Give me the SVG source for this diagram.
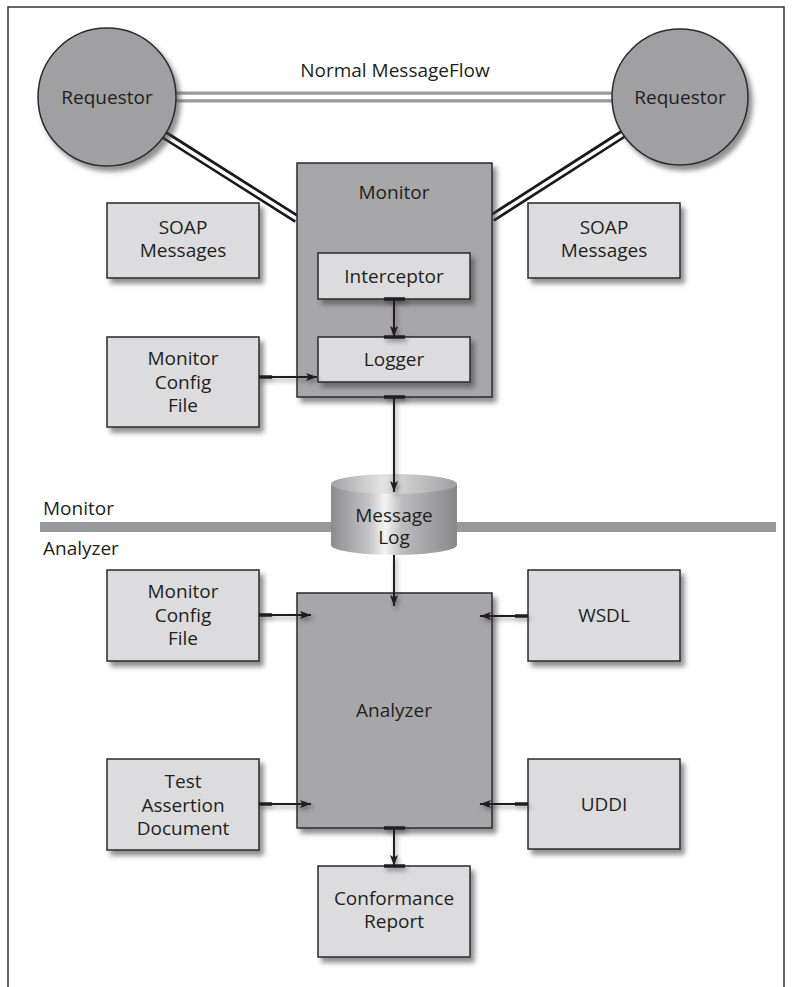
<svg xmlns="http://www.w3.org/2000/svg" width="793" height="987" viewBox="0 0 793 987">
<defs>
<style>
text{font-family:"Open Sans","Noto Sans","Liberation Sans",sans-serif;font-size:19px;fill:#231f20;text-anchor:middle}
.lbl{text-anchor:start}
.lt{fill:#dcdcde;stroke:#2a2a2a;stroke-width:1.5}
.dk{fill:#a7a7a9;stroke:#2a2a2a;stroke-width:1.5}
.circ{fill:#a0a0a2;stroke:#2a2a2a;stroke-width:1.5}
.arr{stroke:#231f20;stroke-width:2;fill:none;marker-end:url(#ah)}
.tick{stroke:#231f20;stroke-width:3.5;fill:none}
.dblk{stroke:#1a1a1a;stroke-width:9;fill:none}
.dwht{stroke:#fff;stroke-width:3.5;fill:none}
.dgry{stroke:#9a9a9c;stroke-width:11;fill:none}
.gwht{stroke:#fff;stroke-width:4.5;fill:none}
</style>
<filter id="sh" x="-20%" y="-20%" width="150%" height="150%">
<feDropShadow dx="4" dy="5" stdDeviation="2.5" flood-color="#444" flood-opacity="0.6"/>
</filter>
<filter id="ash" x="-50%" y="-50%" width="200%" height="200%">
<feDropShadow dx="2" dy="3" stdDeviation="2" flood-color="#333" flood-opacity="0.5"/>
</filter>
<marker id="ah" markerUnits="userSpaceOnUse" markerWidth="12" markerHeight="8" refX="11" refY="4" orient="auto">
<path d="M0,0 L11,4 L0,8 L2.5,4 Z" fill="#231f20"/>
</marker>
<linearGradient id="cyl" x1="0" y1="0" x2="1" y2="0">
<stop offset="0" stop-color="#8c8c8e"/>
<stop offset="0.3" stop-color="#c4c4c6"/>
<stop offset="0.43" stop-color="#f4f4f4"/>
<stop offset="0.56" stop-color="#bdbdbf"/>
<stop offset="1" stop-color="#88888a"/>
</linearGradient>
<linearGradient id="cyltop" x1="0" y1="0" x2="1" y2="0">
<stop offset="0" stop-color="#a2a2a4"/>
<stop offset="0.4" stop-color="#e2e2e2"/>
<stop offset="1" stop-color="#a0a0a2"/>
</linearGradient>
</defs>
<rect width="793" height="987" fill="#fff"/>
<path d="M8,987 L8,7 L784,7 L784,987" fill="none" stroke="#333" stroke-width="1.5"/>

<g id="divider">
<rect x="40" y="522" width="736" height="10" fill="#97989a"/>
<text class="lbl" x="43" y="515">Monitor</text>
<text class="lbl" x="43" y="555">Analyzer</text>
</g>

<g id="flows">
<path class="dgry" d="M170,97 L618,97"/>
<path class="gwht" d="M170,97 L618,97"/>
<path class="dblk" d="M163,134 L297,219"/>
<path class="dwht" d="M161,133 L297,219"/>
<path class="dblk" d="M626,132 L492,218"/>
<path class="dwht" d="M628,131 L492,218"/>
<text x="395" y="77">Normal MessageFlow</text>
</g>

<g id="requestor-left">
<circle class="circ" cx="107" cy="97" r="69" filter="url(#sh)"/>
<text x="107" y="104">Requestor</text>
</g>
<g id="requestor-right">
<circle class="circ" cx="680" cy="97" r="68" filter="url(#sh)"/>
<text x="680" y="104">Requestor</text>
</g>

<g id="soap-left">
<rect class="lt" x="107" y="203" width="152" height="75" filter="url(#sh)"/>
<text x="183" y="234">SOAP</text>
<text x="183" y="257">Messages</text>
</g>
<g id="soap-right">
<rect class="lt" x="528" y="203" width="152" height="75" filter="url(#sh)"/>
<text x="604" y="234">SOAP</text>
<text x="604" y="257">Messages</text>
</g>

<g id="monitor">
<rect class="dk" x="297" y="163" width="195" height="234" filter="url(#sh)"/>
<text x="394" y="199">Monitor</text>
</g>
<g id="interceptor">
<rect class="lt" x="318" y="253" width="152" height="46" filter="url(#sh)"/>
<text x="394" y="283">Interceptor</text>
</g>
<g id="logger">
<rect class="lt" x="318" y="337" width="152" height="45" filter="url(#sh)"/>
<text x="394" y="366">Logger</text>
</g>

<g id="config-top">
<rect class="lt" x="107" y="337" width="152" height="90" filter="url(#sh)"/>
<text x="183" y="365">Monitor</text>
<text x="183" y="389">Config</text>
<text x="183" y="412">File</text>
</g>

<g id="message-log">
<path d="M331,484 L331,545 A63,10 0 0 0 457,545 L457,484 Z" fill="url(#cyl)"/>
<ellipse cx="394" cy="484" rx="63" ry="10" fill="url(#cyltop)"/>
<text x="394" y="522">Message</text>
<text x="394" y="544">Log</text>
</g>

<g id="analyzer">
<rect class="dk" x="297" y="593" width="195" height="235" filter="url(#sh)"/>
<text x="394" y="717">Analyzer</text>
</g>

<g id="config-bottom">
<rect class="lt" x="107" y="570" width="152" height="91" filter="url(#sh)"/>
<text x="183" y="598">Monitor</text>
<text x="183" y="622">Config</text>
<text x="183" y="645">File</text>
</g>
<g id="wsdl">
<rect class="lt" x="528" y="570" width="152" height="91" filter="url(#sh)"/>
<text x="604" y="622">WSDL</text>
</g>
<g id="test-assertion">
<rect class="lt" x="107" y="759" width="152" height="91" filter="url(#sh)"/>
<text x="183" y="788">Test</text>
<text x="183" y="812">Assertion</text>
<text x="183" y="835">Document</text>
</g>
<g id="uddi">
<rect class="lt" x="528" y="759" width="152" height="90" filter="url(#sh)"/>
<text x="604" y="811">UDDI</text>
</g>
<g id="conformance">
<rect class="lt" x="318" y="866" width="152" height="91" filter="url(#sh)"/>
<text x="394" y="905">Conformance</text>
<text x="394" y="928">Report</text>
</g>

<g id="connectors" filter="url(#ash)">
<path class="arr" d="M394,299 L394,337"/>
<path class="arr" d="M259,377 L317,377"/>
<path class="arr" d="M394,397 L394,492"/>
<path class="arr" d="M394,555 L394,606"/>
<path class="arr" d="M259,615 L311,615"/>
<path class="arr" d="M528,616 L480,616"/>
<path class="arr" d="M259,804 L311,804"/>
<path class="arr" d="M528,804 L480,804"/>
<path class="arr" d="M394,828 L394,866"/>
<path class="tick" d="M384,299 L405,299 M384,337 L405,337 M384,397 L405,397 M384,828 L405,828 M384,866 L405,866"/>
<path class="tick" d="M259,377 L272,377 M259,615 L272,615 M259,804 L272,804 M528,616 L515,616 M528,804 L515,804"/>
</g>
</svg>
